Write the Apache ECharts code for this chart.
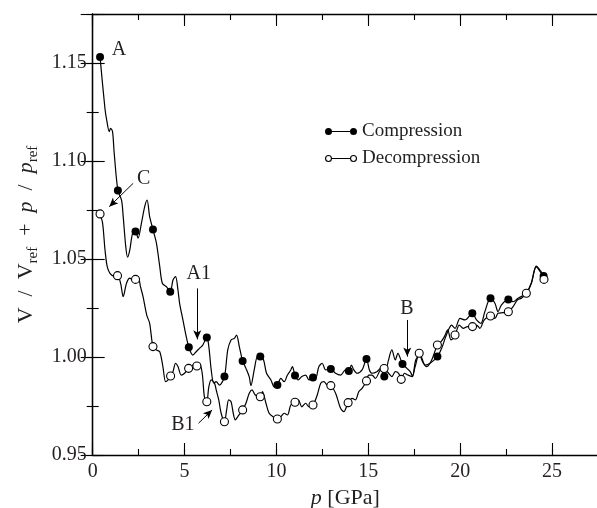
<!DOCTYPE html>
<html>
<head>
<meta charset="utf-8">
<script src="https://cdn.jsdelivr.net/npm/echarts@6/dist/echarts.min.js"></script>
<style>
html,body{margin:0;padding:0;background:#fff;}
#chart{width:597px;height:508px;}
</style>
</head>
<body>
<div id="chart"></div>
<script>
// ---- Data ----
var compP = [0.40,0.67,0.76,0.90,0.975,1.08,1.17,1.37,1.57,1.66,1.80,1.90,2.02,2.17,2.33,2.47,2.65,2.83,2.96,3.10,3.28,3.47,3.65,3.79,4.01,4.22,4.37,4.51,4.64,4.73,4.91,5.09,5.23,5.36,5.45,5.63,5.81,5.99,6.21,6.32,6.45,6.59,6.72,6.90,7.17,7.35,7.53,7.71,7.83,7.98,8.16,8.34,8.52,8.61,8.79,8.97,9.12,9.30,9.46,9.70,9.88,10.05,10.24,10.42,10.60,10.78,10.87,11.01,11.19,11.38,11.59,11.77,11.99,12.13,12.31,12.49,12.68,12.96,13.22,13.49,13.76,13.94,14.08,14.21,14.39,14.66,14.90,15.06,15.20,15.47,15.66,15.87,16.10,16.28,16.47,16.61,16.86,17.10,17.28,17.41,17.58,17.82,18.09,18.36,18.76,18.99,19.18,19.36,19.53,19.72,19.99,20.26,20.66,20.89,21.13,21.34,21.65,21.89,22.06,22.24,22.62,22.88,23.15,23.60,23.87,24.14,24.41,24.54];
var compV = [1.153,1.1265,1.121,1.115,1.1167,1.115,1.104,1.085,1.080,1.0716,1.0563,1.0509,1.0546,1.0631,1.064,1.0606,1.0682,1.0767,1.0801,1.0716,1.065,1.058,1.0461,1.0376,1.0359,1.0333,1.0393,1.041,1.0342,1.0274,1.0189,1.0104,1.005,1.0019,1.001,1.0027,1.0044,1.0061,1.010,1.0053,0.9934,0.9866,0.9874,0.9857,0.990,1.0036,1.0087,1.0095,1.0112,1.0053,0.998,0.9942,0.9899,0.9854,0.9934,1.0002,1.0002,0.9985,0.9917,0.9883,0.9848,0.9857,0.9891,0.9874,0.9908,0.9934,0.9951,0.9905,0.9883,0.990,0.9908,0.9883,0.9896,0.9891,0.9951,0.9968,0.9934,0.9939,0.9917,0.9908,0.9934,0.9929,0.9959,0.9934,0.9917,0.9934,0.999,0.9934,0.9917,0.9925,0.9942,0.990,0.9985,1.0036,0.9985,1.0019,0.9964,0.9942,0.9925,0.990,0.9985,1.001,0.9959,0.9968,1.0002,1.0044,1.0095,1.0138,1.0163,1.0146,1.0197,1.0189,1.0223,1.0189,1.0172,1.0231,1.030,1.0274,1.0231,1.0265,1.0294,1.0282,1.030,1.0325,1.0376,1.0464,1.0435,1.0413];

var compMarkP = [0.40,1.37,2.33,3.28,4.22,5.23,6.21,7.17,8.16,9.12,10.05,11.01,11.99,12.96,13.94,14.90,15.87,16.86,18.76,20.66,21.65,22.62,24.54];
var compMarkV = [1.153,1.085,1.064,1.065,1.0333,1.005,1.010,0.990,0.998,1.0002,0.9857,0.9905,0.9896,0.9939,0.9929,0.999,0.990,0.9964,1.0002,1.0223,1.030,1.0294,1.0413];

var decP = [0.40,0.54,0.67,0.79,0.94,1.15,1.35,1.52,1.66,1.84,2.02,2.20,2.33,2.47,2.60,2.74,2.94,3.10,3.28,3.47,3.65,3.82,3.97,4.10,4.24,4.37,4.51,4.64,4.82,5.00,5.22,5.45,5.67,5.81,5.96,6.08,6.21,6.32,6.45,6.63,6.72,6.86,6.99,7.17,7.29,7.40,7.53,7.65,7.76,7.89,8.16,8.34,8.52,8.67,8.85,9.12,9.24,9.43,9.60,9.82,10.05,10.24,10.42,10.60,10.78,11.01,11.19,11.38,11.59,11.77,11.99,12.22,12.41,12.58,12.76,12.96,13.22,13.49,13.67,13.90,14.12,14.30,14.48,14.66,14.90,15.02,15.20,15.38,15.66,15.86,16.10,16.28,16.47,16.65,16.79,16.97,17.15,17.37,17.55,17.77,17.95,18.18,18.45,18.76,18.96,19.14,19.32,19.50,19.72,19.95,20.17,20.40,20.67,20.89,21.07,21.31,21.65,21.89,22.06,22.33,22.62,22.88,23.11,23.33,23.60,23.87,24.14,24.41,24.56];
var decV = [1.073,1.0682,1.0546,1.0461,1.0427,1.0413,1.0415,1.0376,1.0308,1.0376,1.0402,1.0393,1.0396,1.041,1.0359,1.0308,1.0214,1.0172,1.0053,1.0036,1.0027,0.9951,0.9874,0.9883,0.9903,0.9925,0.9968,0.9951,0.9908,0.9917,0.9942,0.9959,0.9954,0.9968,0.9917,0.9797,0.9772,0.9848,0.9883,0.9866,0.9832,0.9781,0.9713,0.967,0.973,0.9781,0.9772,0.9713,0.9679,0.9695,0.973,0.9764,0.9815,0.9832,0.9806,0.9797,0.9823,0.9764,0.9713,0.9695,0.9684,0.9695,0.9713,0.9704,0.9755,0.9769,0.9781,0.9746,0.9764,0.9746,0.9755,0.9806,0.9866,0.9874,0.9857,0.9854,0.9815,0.9738,0.9721,0.9767,0.9789,0.9781,0.9823,0.984,0.9878,0.9908,0.9908,0.9891,0.9934,0.9941,0.9917,0.990,0.9925,0.9917,0.9886,0.9917,0.9908,0.990,0.9951,1.0019,0.9976,0.9951,0.9985,1.0061,1.0078,1.0104,1.0138,1.0087,1.0112,1.0163,1.0146,1.0155,1.0155,1.0163,1.0146,1.0189,1.0209,1.0197,1.0223,1.0226,1.0231,1.0257,1.0291,1.030,1.0325,1.0376,1.046,1.0427,1.0396];

var decMarkP = [0.40,1.35,2.33,3.28,4.24,5.22,5.67,6.21,7.17,8.16,9.12,10.05,11.01,11.99,12.96,13.90,14.90,15.86,16.79,17.77,18.76,19.72,20.67,21.65,22.62,23.60,24.56];
var decMarkV = [1.073,1.0415,1.0396,1.0053,0.9903,0.9942,0.9954,0.9772,0.967,0.973,0.9797,0.9684,0.9769,0.9755,0.9854,0.9767,0.9878,0.9941,0.9886,1.0019,1.0061,1.0112,1.0155,1.0209,1.0231,1.0325,1.0396];

// annotation labels (text, p, v)
var noteText = ['A','C','A1','B1','B'];
var noteP = [1.43,2.78,5.77,4.91,17.1];
var noteV = [1.1566,1.0908,1.0427,0.9653,1.0248];
// arrows: from (p,v) to (p,v)
var arrowFromP = [2.20,5.69,5.76,17.12];
var arrowFromV = [1.0886,1.035,0.9662,1.0189];
var arrowToP = [0.90,5.69,6.50,17.12];
var arrowToV = [1.0767,1.009,0.973,1.0002];

var xTicks = [0,5,10,15,20,25];
var yTicks = [0.95,1.00,1.05,1.10,1.15];

function zip(a,b){return a.map(function(x,i){return [x,b[i]];});}

var FONT = 'Liberation Serif';
var TXT = '#231f20';
var chart = echarts.init(document.getElementById('chart'), null, {renderer:'canvas'});

var iconFilled = 'path://M0,4a3.5,3.5 0 1,1 7,0a3.5,3.5 0 1,1 -7,0ZM7,3.4h18v1.2h-18ZM25,4a3.5,3.5 0 1,1 7,0a3.5,3.5 0 1,1 -7,0Z';
var iconHollow = 'path://M0,4a3.5,3.5 0 1,1 7,0a3.5,3.5 0 1,1 -7,0ZM1.1,4a2.4,2.4 0 1,0 4.8,0a2.4,2.4 0 1,0 -4.8,0ZM7,3.4h18v1.2h-18ZM25,4a3.5,3.5 0 1,1 7,0a3.5,3.5 0 1,1 -7,0ZM26.1,4a2.4,2.4 0 1,0 4.8,0a2.4,2.4 0 1,0 -4.8,0Z';

var XMIN=0, XMAX=27.5, YMIN=0.95, YMAX=1.175;
var axisLine = {show:true, lineStyle:{color:'#000', width:1.3}};

function xAx(pos, interval, tickLen, showLabel, showLine){
  return {
    type:'value', position:pos, min:XMIN, max:XMAX, interval:interval,
    axisLine: showLine ? axisLine : {show:false},
    axisTick:{show:true, inside:true, length:tickLen, lineStyle:{color:'#000', width:1.1}},
    splitLine:{show:false},
    axisLabel: showLabel ? {show:true, margin:7, color:TXT, fontFamily:FONT, fontSize:20,
      showMaxLabel:false,
      formatter:function(v){return (xTicks.indexOf(Math.round(v*1000)/1000)>=0)?String(Math.round(v)):'';}} : {show:false}
  };
}
function yAx(pos, interval, tickLen, showLabel, showLine){
  return {
    type:'value', position:pos, min:YMIN, max:YMAX, interval:interval,
    axisLine: showLine ? axisLine : {show:false},
    axisTick:{show:true, inside:true, length:tickLen, lineStyle:{color:'#000', width:1.1}},
    splitLine:{show:false},
    axisLabel: showLabel ? {show:true, margin:6, color:TXT, fontFamily:FONT, fontSize:20,
      formatter:function(v){
        for (var i=0;i<yTicks.length;i++){ if (Math.abs(yTicks[i]-v)<1e-6) return v.toFixed(2); }
        return '';
      }} : {show:false}
  };
}

var xAxes = [xAx('bottom',2.5,6,true,true), xAx('bottom',5,12,false,false), xAx('top',2.5,6,false,true), xAx('top',5,12,false,false)];
xAxes[0].name = '{i|p} [GPa]';
xAxes[0].nameLocation = 'middle';
xAxes[0].nameGap = 30;
xAxes[0].nameTextStyle = {color:TXT, fontFamily:FONT, fontSize:22, rich:{i:{fontStyle:'italic', fontFamily:FONT, fontSize:22, color:TXT}}};

var SP = '\u2002';
var yAxes = [yAx('left',0.025,6,true,true), yAx('left',0.05,12,false,false), yAx('right',0.025,6,false,true), yAx('right',0.05,12,false,false)];
yAxes[0].name = '{n|V' + SP + '/' + SP + 'V}{s|ref}{n|' + SP + '+' + SP + '}{i|p}{n|' + SP + '/' + SP + '}{i|p}{s|ref}';
yAxes[0].nameLocation = 'middle';
yAxes[0].nameRotate = 90;
yAxes[0].nameGap = 50;
yAxes[0].nameTextStyle = {color:TXT, fontFamily:FONT, fontSize:22, rich:{
  n:{fontFamily:FONT, fontSize:22, lineHeight:30, color:TXT, verticalAlign:'middle'},
  i:{fontFamily:FONT, fontStyle:'italic', fontSize:22, lineHeight:30, color:TXT, verticalAlign:'middle'},
  s:{fontFamily:FONT, fontSize:15, lineHeight:15, color:TXT, verticalAlign:'bottom'}
}};

var notePoints = noteText.map(function(t,i){
  return {coord:[noteP[i], noteV[i]], value:t, label:{formatter:t}};
});
var arrowLines = arrowFromP.map(function(p,i){
  return [{coord:[p, arrowFromV[i]]},{coord:[arrowToP[i], arrowToV[i]]}];
});

var option = {
  animation:false,
  backgroundColor:'#fff',
  grid:{left:92.7, right:-1, top:14, bottom:53, containLabel:false, outerBoundsMode:'none'},
  xAxis: xAxes,
  yAxis: yAxes,
  legend:{
    orient:'vertical', left:320, top:117, itemWidth:32, itemHeight:7, itemGap:8,
    textStyle:{fontFamily:FONT, fontSize:19, color:TXT},
    itemStyle:{color:'#000', borderWidth:0, opacity:1},
    data:[{name:'Compression', icon:iconFilled}, {name:'Decompression', icon:iconHollow}]
  },
  series:[
    {name:'Compression', type:'line', xAxisIndex:0, yAxisIndex:0, data:zip(compP,compV),
     showSymbol:false, smooth:0.3, lineStyle:{color:'#000', width:1.2}, itemStyle:{color:'#000'}, z:2},
    {name:'Decompression', type:'line', xAxisIndex:0, yAxisIndex:0, data:zip(decP,decV),
     showSymbol:false, smooth:0.3, lineStyle:{color:'#000', width:1.2}, itemStyle:{color:'#000'}, z:2},
    {name:'compMarks', type:'scatter', xAxisIndex:0, yAxisIndex:0, data:zip(compMarkP,compMarkV),
     symbol:'circle', symbolSize:8, itemStyle:{color:'#000', opacity:1}, z:3},
    {name:'decMarks', type:'scatter', xAxisIndex:0, yAxisIndex:0, data:zip(decMarkP,decMarkV),
     symbol:'circle', symbolSize:8, itemStyle:{color:'#fff', borderColor:'#000', borderWidth:1.1, opacity:1}, z:4},
    {name:'notes', type:'scatter', xAxisIndex:0, yAxisIndex:0, data:[], silent:true,
     markPoint:{symbol:'rect', symbolSize:1, itemStyle:{color:'rgba(0,0,0,0)'},
       label:{show:true, position:'inside', fontFamily:FONT, fontSize:20, color:TXT},
       data: notePoints},
     markLine:{silent:true, symbol:['none','arrow'], symbolSize:[6,9],
       lineStyle:{color:'#000', width:1, type:'solid'}, label:{show:false},
       data: arrowLines}
    }
  ]
};
chart.setOption(option);
</script>
</body>
</html>
